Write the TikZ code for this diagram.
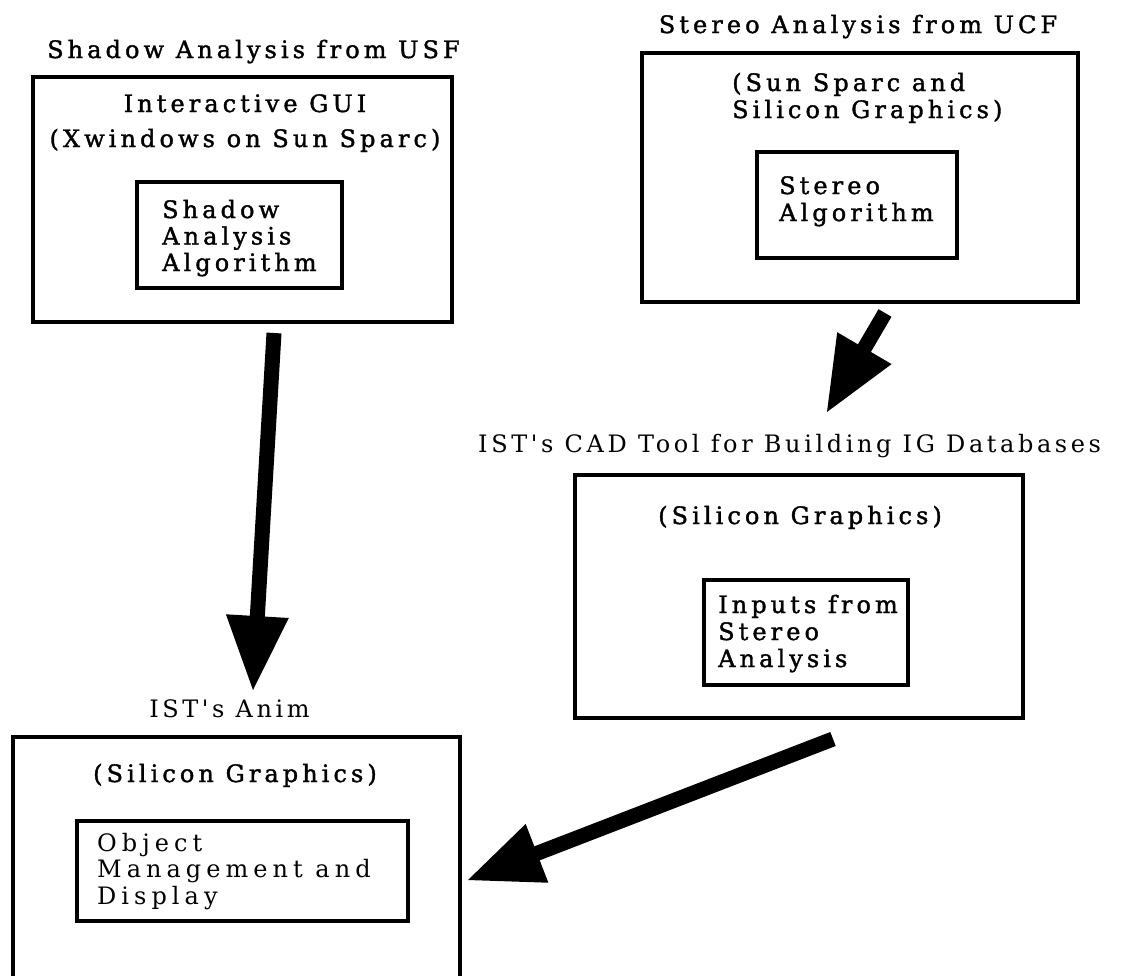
\documentclass[tikz,border=0pt]{standalone}
\usepackage{fontspec}
\setmainfont{DejaVu Serif}
\newfontfamily\heavyserif{DejaVu Serif}[FakeBold=1.5,LetterSpace=17]
\newfontfamily\plainserif{DejaVu Serif}[LetterSpace=15]
\newfontfamily\plainserifwide{DejaVu Serif}[LetterSpace=21]
\usetikzlibrary{calc}
\newcommand\drawbigarrow[2]{%
  \draw[shaft] (#1) -- ($(#2)!70pt!(#1)$);
  \fill ($(#2)!74pt!(#1)!31.5pt!90:(#2)$) -- (#2) -- ($(#2)!74pt!(#1)!31.5pt!-90:(#2)$) -- cycle;}
\begin{document}
\begin{tikzpicture}[x=1pt,y=-1pt,
  box/.style={draw=black,line width=3.2pt,inner sep=0pt},
  lbl/.style={inner sep=0pt,font=\heavyserif\fontsize{24}{27}\selectfont,align=left},
  ttl/.style={inner sep=0pt,font=\heavyserif\fontsize{24}{27}\selectfont},
  thin/.style={inner sep=0pt,font=\plainserif\fontsize{24}{26.5}\selectfont,align=left},
  shaft/.style={line width=15pt,black}]
\useasboundingbox (0,0) rectangle (1127,975);
\fill[white] (0,0) rectangle (1127,975);
% Shadow analysis
\node[ttl,anchor=base west] (t1) at (47,58) {Shadow Analysis from USF};
\node[box,minimum width=419pt,minimum height=245pt] (b1) at (242.5,199.5) {};
\node[ttl,anchor=base,align=center,font=\heavyserif\fontsize{24}{35}\selectfont] (g1) at (245,147) {Interactive GUI\\(Xwindows on Sun Sparc)};
\node[box,minimum width=205pt,minimum height=106pt] (i1) at (239.5,235) {};
\node[lbl,anchor=base west,font=\heavyserif\fontsize{24}{26.5}\selectfont] (s1) at (162,271) {Shadow\\Analysis\\Algorithm};
% Stereo analysis
\node[ttl,anchor=base] (t2) at (858,33) {Stereo Analysis from UCF};
\node[box,minimum width=436pt,minimum height=249pt] (b2) at (860,177.5) {};
\node[lbl,anchor=base west] (g2) at (732,118) {(Sun Sparc and\\Silicon Graphics)};
\node[box,minimum width=200pt,minimum height=106pt] (i2) at (857,205) {};
\node[lbl,anchor=base west] (s2) at (779,221) {Stereo\\Algorithm};
% CAD tool
\node[thin,anchor=base west] (t3) at (478,452) {IST's CAD Tool for Building IG Databases};
\node[box,minimum width=448pt,minimum height=243pt] (b3) at (799,596.5) {};
\node[ttl,anchor=base west] (g3) at (658,524) {(Silicon Graphics)};
\node[box,minimum width=204pt,minimum height=105pt] (i3) at (806,632.5) {};
\node[lbl,anchor=base west] (s3) at (718,667) {Inputs from\\Stereo\\Analysis};
% Anim
\node[thin,anchor=base] (t4) at (229.5,717) {IST's Anim};
\begin{scope}
\clip (0,0) rectangle (1127,975);
\node[box,minimum width=447pt,minimum height=286pt] (b4) at (236.5,880) {};
\end{scope}
\node[ttl,anchor=base] (g4) at (235,782) {(Silicon Graphics)};
\node[box,minimum width=331pt,minimum height=100pt] (i4) at (242.5,871) {};
\node[thin,font=\plainserifwide\fontsize{24}{26.5}\selectfont,anchor=base west] (s4) at (97,904) {Object\\Management and\\Display};
% arrows
\coordinate (a1s) at (274,333);
\coordinate (a1t) at (253,690);
\coordinate (a2s) at (885,313);
\coordinate (a2t) at (827,412);
\coordinate (a3s) at (833,739);
\coordinate (a3t) at (468,880);
\drawbigarrow{a1s}{a1t}
\drawbigarrow{a2s}{a2t}
\drawbigarrow{a3s}{a3t}
\end{tikzpicture}
\end{document}
